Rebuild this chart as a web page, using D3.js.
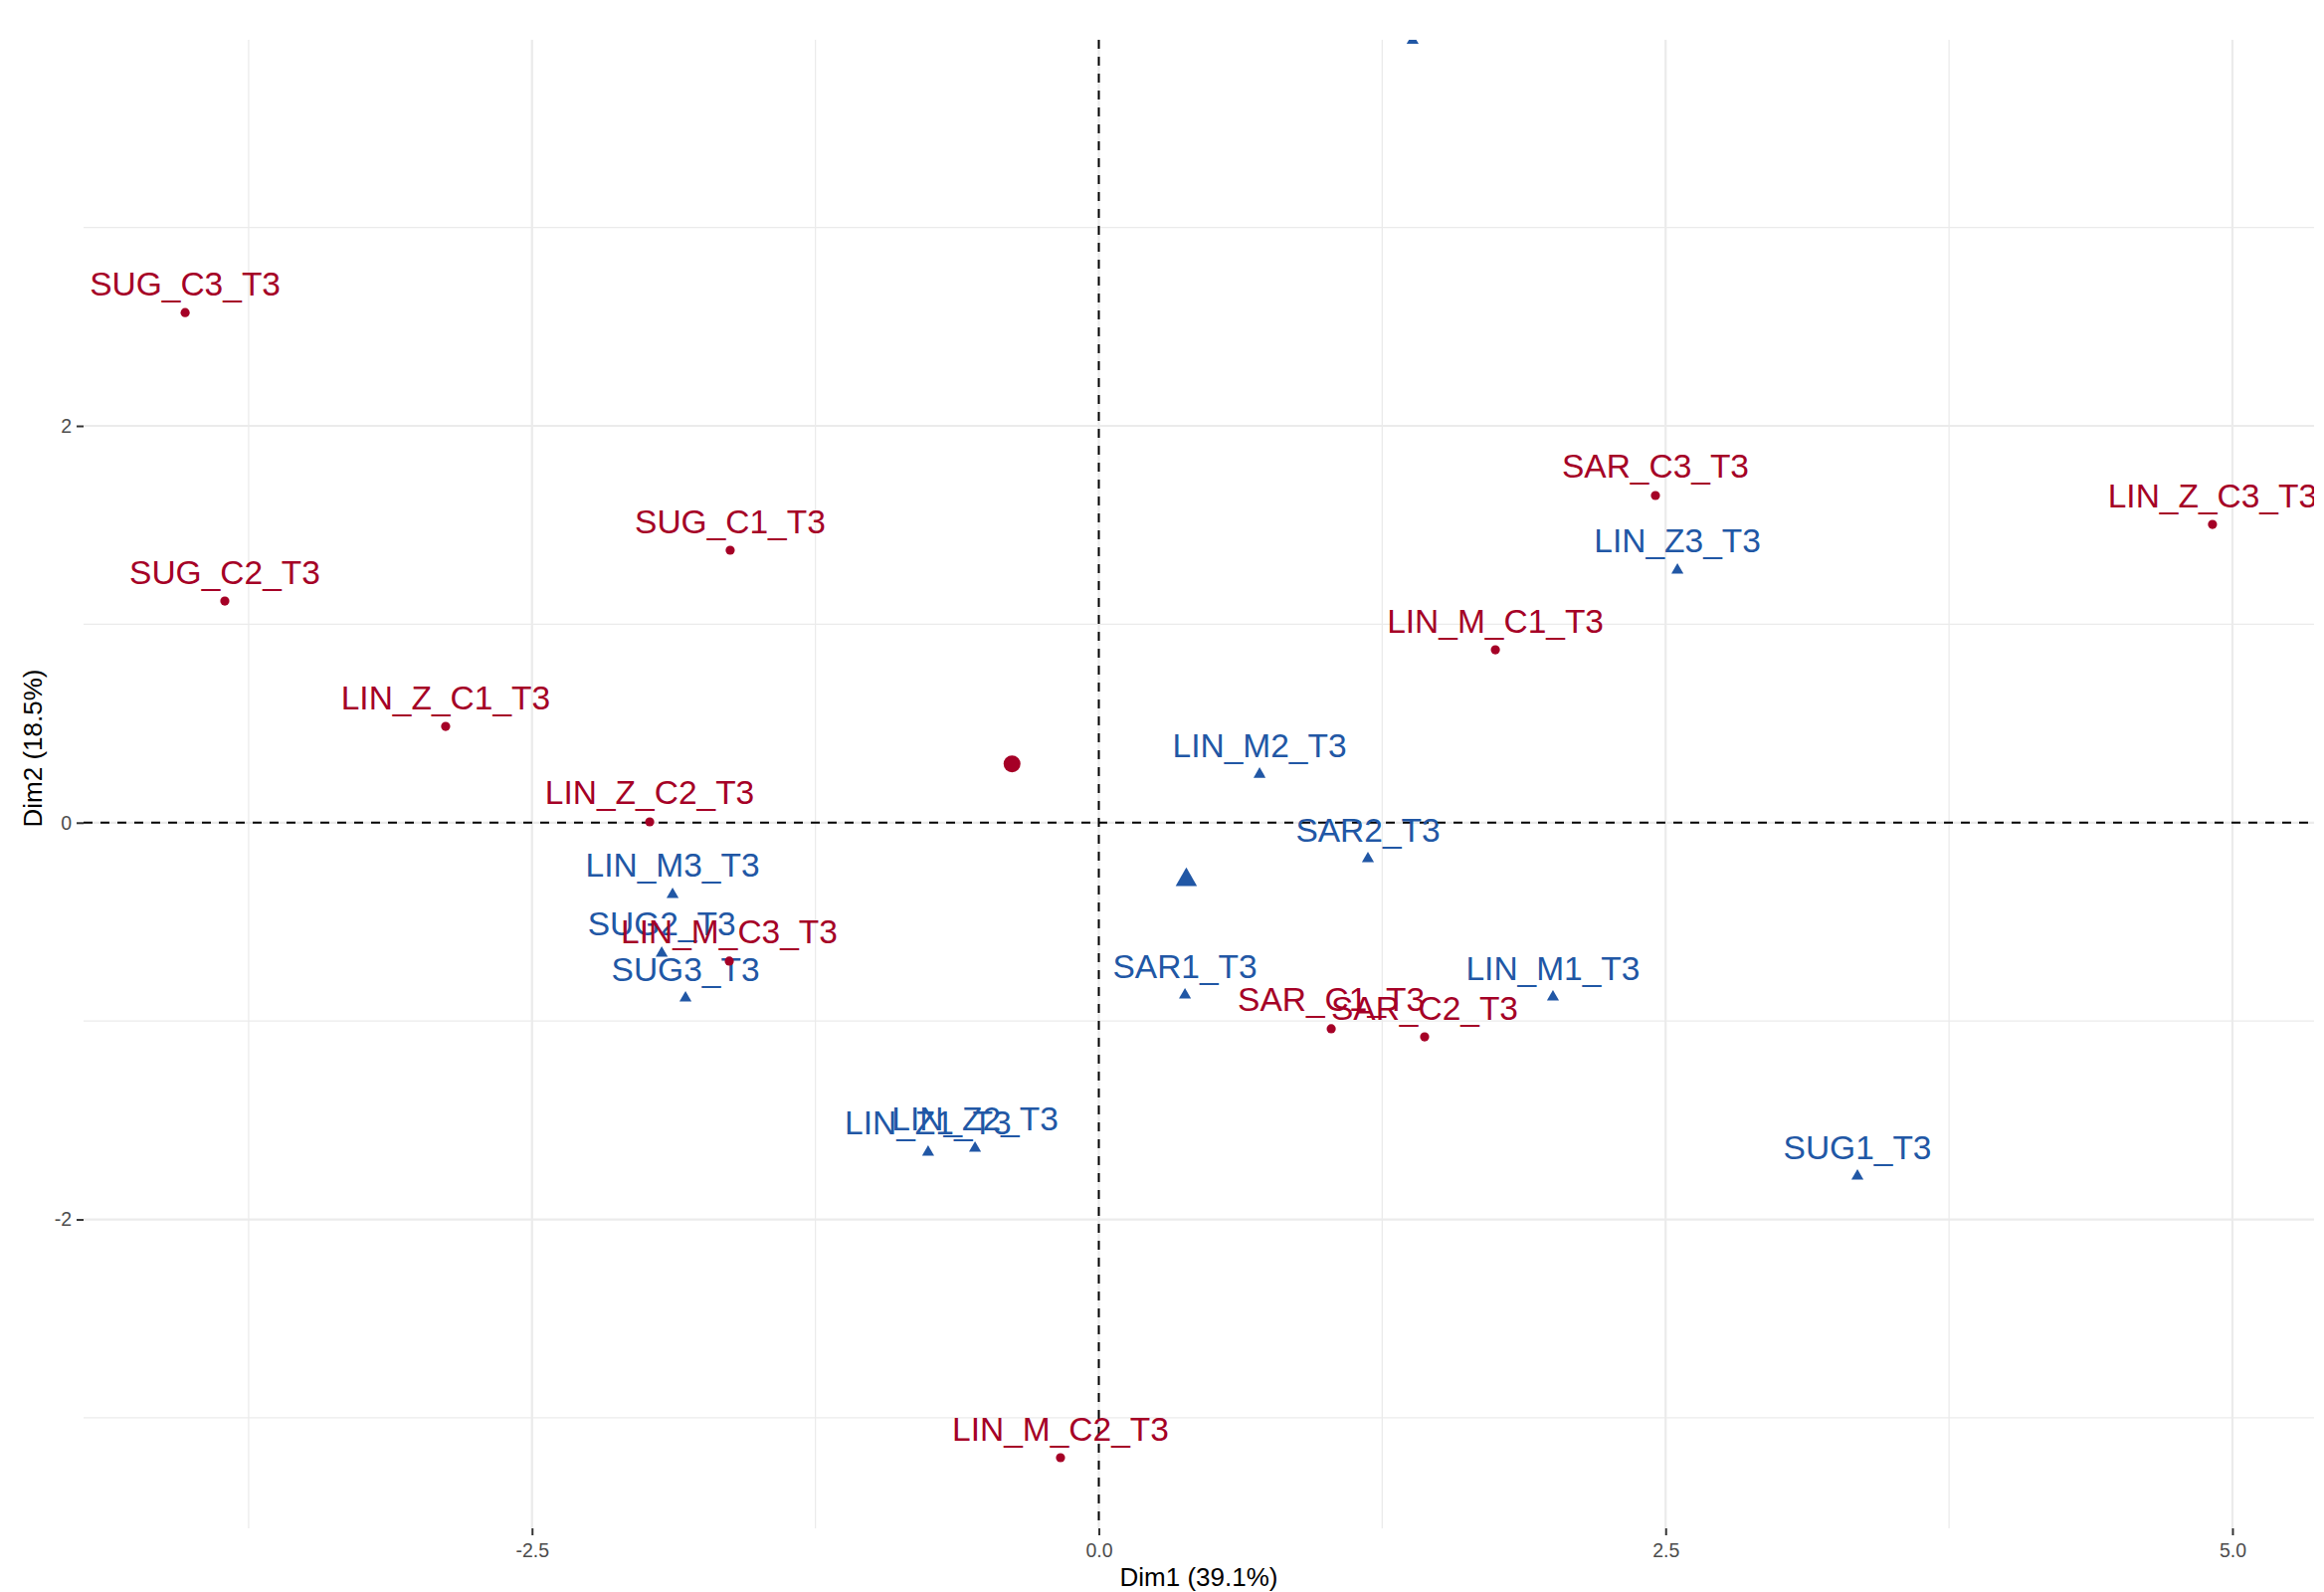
<!DOCTYPE html>
<html>
<head>
<meta charset="utf-8">
<script src="https://cdn.jsdelivr.net/npm/d3@7"></script>
<style>
  html, body { margin: 0; padding: 0; background: #ffffff; }
  svg { display: block; }
  text { font-family: "Liberation Sans", Arial, Helvetica, sans-serif; }
</style>
</head>
<body>
<script>
// ---------------- data ----------------
const redLabels = ["SUG_C3_T3", "SUG_C2_T3", "SUG_C1_T3", "LIN_Z_C1_T3", "LIN_Z_C2_T3", "LIN_Z_C3_T3",
                   "LIN_M_C1_T3", "LIN_M_C2_T3", "LIN_M_C3_T3", "SAR_C1_T3", "SAR_C2_T3", "SAR_C3_T3"];
const redX = [-4.030, -3.855, -1.626, -2.881, -1.981, 4.912, 1.749, -0.169, -1.630, 1.025, 1.437, 2.455];
const redY = [2.571, 1.117, 1.373, 0.485, 0.004, 1.503, 0.871, -3.201, -0.698, -1.039, -1.080, 1.649];

const blueLabels = ["LIN_M1_T3", "LIN_M2_T3", "LIN_M3_T3", "LIN_Z1_T3", "LIN_Z2_T3", "LIN_Z3_T3",
                    "SAR1_T3", "SAR2_T3", "SAR3_T3", "SUG1_T3", "SUG2_T3", "SUG3_T3"];
const blueX = [2.003, 0.709, -1.880, -0.753, -0.546, 2.552, 0.380, 1.187, 1.384, 3.346, -1.928, -1.823];
const blueY = [-0.879, 0.244, -0.362, -1.661, -1.641, 1.273, -0.869, -0.182, 3.943, -1.782, -0.658, -0.884];

const xTicks = [-2.5, 0, 2.5, 5.0];
const xTickLabels = ["-2.5", "0.0", "2.5", "5.0"];
const xMinor = [-3.75, -1.25, 1.25, 3.75];
const yTicks = [-2, 0, 2];
const yTickLabels = ["-2", "0", "2"];
const yMinor = [-3, -1, 1, 3];
const xDomain = [-4.478, 5.360];
const yDomain = [-3.557, 3.946];
const xTitle = "Dim1 (39.1%)";
const yTitle = "Dim2 (18.5%)";

// ---------------- layout ----------------
const W = 2336, H = 1600;
const P = { left: 84, right: 2326, top: 40, bottom: 1536 };
const RED = "#A50026", BLUE = "#2157A5";
const LABEL_OFFSET = 17.5;

const svg = d3.select("body").append("svg").attr("width", W).attr("height", H);
svg.append("rect").attr("width", W).attr("height", H).attr("fill", "#ffffff");

const x = d3.scaleLinear().domain(xDomain).range([P.left, P.right]);
const y = d3.scaleLinear().domain(yDomain).range([P.bottom, P.top]);

svg.append("defs").append("clipPath").attr("id", "panel")
  .append("rect").attr("x", P.left).attr("y", P.top)
  .attr("width", P.right - P.left).attr("height", P.bottom - P.top);

const grid = svg.append("g");
// minor gridlines
grid.selectAll(".vminor").data(xMinor).enter().append("line")
  .attr("x1", d => x(d)).attr("x2", d => x(d)).attr("y1", P.top).attr("y2", P.bottom)
  .attr("stroke", "#EBEBEB").attr("stroke-width", 1.3);
grid.selectAll(".hminor").data(yMinor).enter().append("line")
  .attr("y1", d => y(d)).attr("y2", d => y(d)).attr("x1", P.left).attr("x2", P.right)
  .attr("stroke", "#EBEBEB").attr("stroke-width", 1.3);
// major gridlines
grid.selectAll(".vmajor").data(xTicks).enter().append("line")
  .attr("x1", d => x(d)).attr("x2", d => x(d)).attr("y1", P.top).attr("y2", P.bottom)
  .attr("stroke", "#EBEBEB").attr("stroke-width", 2.2);
grid.selectAll(".hmajor").data(yTicks).enter().append("line")
  .attr("y1", d => y(d)).attr("y2", d => y(d)).attr("x1", P.left).attr("x2", P.right)
  .attr("stroke", "#EBEBEB").attr("stroke-width", 2.2);

// axes
const xAxis = svg.append("g").attr("transform", `translate(0,${P.bottom})`)
  .call(d3.axisBottom(x).tickValues(xTicks).tickFormat((d, i) => xTickLabels[i]).tickSize(7).tickPadding(8));
const yAxis = svg.append("g").attr("transform", `translate(${P.left},0)`)
  .call(d3.axisLeft(y).tickValues(yTicks).tickFormat((d, i) => yTickLabels[i]).tickSize(7).tickPadding(5));
[xAxis, yAxis].forEach(a => {
  a.select(".domain").remove();
  a.selectAll(".tick line").attr("stroke", "#333333").attr("stroke-width", 2);
  a.selectAll(".tick text").attr("fill", "#4D4D4D").attr("font-size", 19.5)
    .attr("font-family", "Liberation Sans, Arial, sans-serif");
});

// axis titles
svg.append("text").attr("x", (P.left + P.right) / 2).attr("y", 1594)
  .attr("text-anchor", "middle").attr("font-size", 26).attr("fill", "#000").text(xTitle);
svg.append("text").attr("transform", "translate(42,752) rotate(-90)")
  .attr("text-anchor", "middle").attr("font-size", 26).attr("fill", "#000").text(yTitle);

// panel contents (clipped)
const panel = svg.append("g").attr("clip-path", "url(#panel)");

// reference dashed lines
panel.append("line").attr("x1", x(0)).attr("x2", x(0)).attr("y1", P.top).attr("y2", P.bottom)
  .attr("stroke", "#000").attr("stroke-width", 2).attr("stroke-dasharray", "9,8");
panel.append("line").attr("y1", y(0)).attr("y2", y(0)).attr("x1", P.left).attr("x2", P.right)
  .attr("stroke", "#000").attr("stroke-width", 2).attr("stroke-dasharray", "9,8");

const blue = blueLabels.map((l, i) => ({ label: l, x: blueX[i], y: blueY[i] }));
const red = redLabels.map((l, i) => ({ label: l, x: redX[i], y: redY[i] }));
// a label whose baseline falls above the panel is clipped away entirely (as in the reference)
const labelVisible = d => y(d.y) - LABEL_OFFSET > P.top;

const triSmall = d3.symbol().type(d3.symbolTriangle).size(64);
const triBig = d3.symbol().type(d3.symbolTriangle).size(200);

// blue group
panel.selectAll(".bpt").data(blue).enter().append("path")
  .attr("d", triSmall).attr("transform", d => `translate(${x(d.x)},${y(d.y)})`).attr("fill", BLUE);
panel.selectAll(".blab").data(blue.filter(labelVisible)).enter().append("text")
  .attr("x", d => x(d.x)).attr("y", d => y(d.y) - LABEL_OFFSET)
  .attr("text-anchor", "middle").attr("font-size", 33.5).attr("fill", BLUE).text(d => d.label);

// red group
panel.selectAll(".rpt").data(red).enter().append("circle")
  .attr("cx", d => x(d.x)).attr("cy", d => y(d.y)).attr("r", 4.6).attr("fill", RED);
panel.selectAll(".rlab").data(red.filter(labelVisible)).enter().append("text")
  .attr("x", d => x(d.x)).attr("y", d => y(d.y) - LABEL_OFFSET)
  .attr("text-anchor", "middle").attr("font-size", 33.5).attr("fill", RED).text(d => d.label);

// group mean points
const redMean = [d3.mean(redX), d3.mean(redY)];
const blueMean = [d3.mean(blueX), d3.mean(blueY)];
panel.append("circle").attr("cx", x(redMean[0])).attr("cy", y(redMean[1])).attr("r", 8.5).attr("fill", RED);
panel.append("path").attr("d", triBig)
  .attr("transform", `translate(${x(blueMean[0])},${y(blueMean[1])})`).attr("fill", BLUE);
</script>
</body>
</html>
